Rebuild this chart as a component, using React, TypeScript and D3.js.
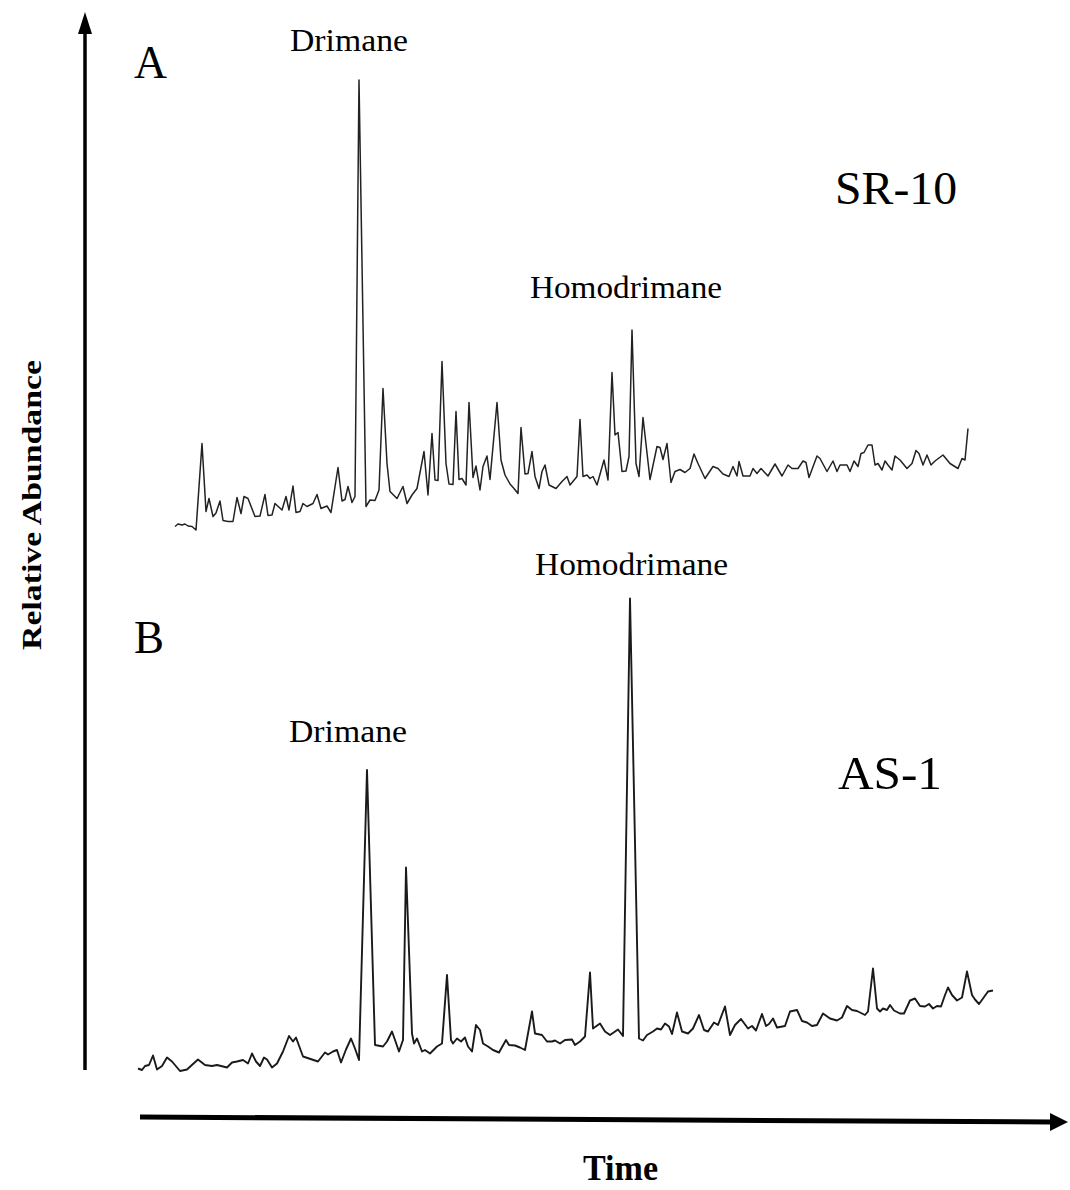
import React from "react";
import * as d3 from "d3";

// Retention time (arbitrary min) and relative abundance (%) for sample SR-10 (panel A)
const timeA = [4.5,4.8,5.2,5.5,5.8,6.2,6.6,7.2,7.6,7.9,8.3,8.6,9.0,9.3,9.8,10.3,10.7,11.1,11.4,11.8,12.5,13.0,13.5,13.8,14.2,14.5,15.2,15.6,15.9,16.3,16.6,17.0,17.3,17.7,18.3,18.7,19.1,19.7,20.1,20.8,21.2,21.5,21.8,22.2,22.5,22.9,23.6,24.0,24.5,24.9,25.3,25.7,26.0,26.7,27.3,27.7,28.2,28.7,29.4,29.8,30.2,30.5,30.8,31.2,31.6,31.9,32.3,32.6,32.9,33.2,33.6,33.9,34.3,34.6,35.0,35.3,35.7,36.0,36.7,37.1,37.5,38.0,38.4,38.8,39.1,39.5,39.8,40.2,40.5,40.9,41.2,41.5,41.9,42.6,43.2,43.7,44.0,44.7,45.0,45.3,45.7,46.0,46.3,46.7,47.4,47.8,48.2,48.5,48.8,49.2,49.6,49.9,50.2,50.6,50.9,51.3,52.0,52.7,53.0,53.3,53.7,54.1,54.5,55.0,55.5,56.0,56.4,56.8,57.5,58.3,58.8,59.3,59.9,60.3,60.7,60.9,61.3,62.0,62.3,62.7,63.1,63.8,64.5,65.2,65.8,66.2,66.8,67.3,67.6,67.9,68.7,69.0,69.7,70.3,70.7,71.0,71.7,72.0,72.4,72.8,73.1,73.4,73.8,74.2,74.5,74.8,75.2,75.5,75.8,76.2,76.5,77.0,77.7,78.2,78.6,78.9,79.3,79.7,80.1,80.5,81.3,82.0,82.8,83.2,83.5,83.8];
const abundA = [2.7,3.2,3.0,3.2,2.8,2.7,2.0,19.3,5.7,8.3,4.7,5.4,7.8,3.9,3.7,3.7,8.5,5.3,8.7,8.3,4.7,4.8,9.1,4.9,5.0,7.3,6.0,8.7,6.0,10.8,5.5,5.7,7.3,6.7,7.3,9.1,6.3,6.8,5.5,14.5,7.8,8.1,10.7,7.5,8.7,92.0,6.7,8.0,7.9,10.0,30.3,15.3,9.7,8.3,10.7,7.3,9.0,10.3,17.7,9.0,21.3,12.0,11.9,35.7,15.3,11.2,11.1,25.7,12.1,12.3,11.0,27.5,12.5,14.8,10.0,14.7,16.8,12.1,27.5,16.0,13.0,11.2,10.3,9.3,22.5,13.2,13.3,17.7,12.7,10.3,13.7,15.0,11.0,10.3,11.7,12.7,11.0,12.7,24.1,12.7,13.0,12.3,12.7,11.0,16.0,12.0,33.5,21.0,21.5,13.7,13.8,16.7,42.0,15.3,12.7,24.5,12.1,18.7,18.5,16.1,19.3,11.5,13.7,14.1,13.5,14.3,17.2,15.3,12.3,14.7,14.3,13.2,12.7,14.7,12.8,15.7,12.8,12.8,14.3,13.3,14.3,12.8,15.2,12.8,15.0,14.3,14.3,15.8,15.5,12.5,16.8,16.3,13.7,15.8,13.7,15.0,15.0,13.7,15.8,14.7,17.3,17.5,19.0,19.0,15.0,15.3,14.0,15.8,15.0,14.0,16.8,16.0,14.3,15.3,17.9,17.3,15.0,17.0,15.0,15.8,17.0,15.3,14.3,16.3,16.0,22.3];

// Sample AS-1 (panel B)
const timeB = [0.8,1.2,1.5,1.9,2.3,2.7,3.2,3.7,4.2,5.0,5.7,6.3,6.8,7.5,8.2,8.7,9.7,10.2,10.7,11.3,11.8,12.2,12.6,13.0,13.4,13.7,14.2,14.7,15.3,15.9,16.3,16.6,17.3,18.2,18.8,19.5,19.8,20.3,20.7,21.1,21.6,22.1,22.5,22.9,23.7,24.5,25.3,25.7,26.2,26.5,26.9,27.3,27.6,28.2,28.4,28.7,29.2,29.5,30.0,30.7,31.2,31.7,32.1,32.3,32.7,33.1,33.5,33.8,34.2,34.6,35.0,35.3,35.8,36.3,36.9,37.6,37.9,38.5,39.0,39.5,40.2,40.5,41.2,41.7,42.2,42.5,43.0,43.5,44.2,44.5,45.0,45.5,46.0,46.3,47.0,47.5,48.0,48.8,49.3,50.0,50.9,51.3,51.7,52.3,52.7,53.1,53.5,53.9,54.2,54.7,55.2,55.8,56.3,56.9,57.4,57.8,58.4,58.8,59.5,60.0,60.5,61.1,61.8,62.2,62.6,63.2,63.6,63.9,64.3,64.7,65.5,66.0,66.7,67.2,67.7,68.2,68.7,69.3,70.0,70.7,71.2,71.7,72.2,72.7,73.2,73.5,73.8,74.3,74.7,75.0,75.3,75.7,76.0,76.4,77.0,77.4,78.0,78.5,79.0,79.5,79.9,80.3,80.7,81.1,81.5,81.8,82.2,82.7,83.2,83.7,84.2,84.5,84.9,85.3,85.8,86.3];
const abundB = [2.3,2.0,2.8,3.0,4.9,2.1,2.8,4.5,3.7,1.8,2.1,3.2,4.1,3.0,2.8,3.0,2.5,3.5,3.7,4.0,3.3,5.3,3.7,2.8,4.5,4.1,2.5,3.3,5.7,8.8,7.7,8.5,4.7,4.1,3.7,5.5,5.1,5.7,6.0,3.5,6.1,8.3,6.3,4.0,62.0,7.0,6.7,7.7,9.7,8.0,5.7,8.0,42.5,9.3,7.3,8.3,5.7,6.0,5.3,6.7,7.3,21.0,8.0,7.3,8.3,7.7,8.5,6.7,5.7,11.0,10.0,7.3,6.7,6.0,5.5,8.0,7.0,6.9,6.5,6.0,13.7,9.3,9.0,7.7,7.7,7.9,7.3,8.0,8.1,7.0,7.7,8.7,21.5,10.3,11.3,9.7,9.0,10.1,8.8,96.3,8.3,7.9,9.0,9.7,10.3,10.1,11.3,10.7,9.2,13.5,9.7,9.3,10.3,13.0,10.0,9.7,11.5,11.0,14.7,9.0,11.0,12.2,10.3,10.8,9.9,13.2,10.8,11.2,12.3,10.5,10.8,13.7,14.0,11.8,11.5,10.8,11.0,13.3,12.3,11.9,12.5,14.8,14.0,13.8,13.3,13.0,13.7,22.3,14.3,13.7,14.3,14.0,15.0,13.9,13.3,13.3,15.9,16.3,14.8,14.7,15.2,14.3,14.8,14.7,17.0,18.5,17.0,15.9,16.5,21.7,17.0,16.1,15.2,16.3,17.7,17.9];

const panelLabels = ["A", "B"];
const sampleLabels = ["SR-10", "AS-1"];
const peakLabels = ["Drimane", "Homodrimane"];
const xAxisTitle = "Time";
const yAxisTitle = "Relative Abundance";

const W = 1070;
const H = 1190;
const FONT = "'Liberation Serif', 'Times New Roman', serif";

export default function App() {
  const x = d3.scaleLinear().domain([0, 93.5]).range([130, 1065]);
  const yA = d3.scaleLinear().domain([0, 100]).range([540, 40]);
  const yB = d3.scaleLinear().domain([0, 100]).range([1080, 580]);

  const pairsA = timeA.map((t, i) => [t, abundA[i]] as [number, number]);
  const pairsB = timeB.map((t, i) => [t, abundB[i]] as [number, number]);

  const lineA = d3.line<[number, number]>().x((d) => x(d[0])).y((d) => yA(d[1]))(pairsA) || "";
  const lineB = d3.line<[number, number]>().x((d) => x(d[0])).y((d) => yB(d[1]))(pairsB) || "";

  return (
    <svg
      width={W}
      height={H}
      viewBox={`0 0 ${W} ${H}`}
      style={{ position: "absolute", left: 0, top: 0, background: "#fff" }}
    >
      <rect x={0} y={0} width={W} height={H} fill="#fff" />
      {/* Y axis arrow */}
      <line x1={85} y1={1070} x2={85} y2={30} stroke="#000" strokeWidth={3.5} />
      <path d="M85,12 L78,34 L92,34 Z" fill="#000" />
      {/* X axis arrow */}
      <line x1={140} y1={1117} x2={1052} y2={1122} stroke="#000" strokeWidth={5} />
      <path d="M1068,1122 L1050,1113 L1050,1131 Z" fill="#000" />

      {/* traces */}
      <path d={lineA} fill="none" stroke="#222" strokeWidth={1.5} strokeLinejoin="round" />
      <path d={lineB} fill="none" stroke="#1a1a1a" strokeWidth={1.9} strokeLinejoin="round" />

      {/* labels */}
      <g fontFamily={FONT} fill="#000">
        <text x={134} y={78} fontSize={46} textLength={33} lengthAdjust="spacingAndGlyphs">{panelLabels[0]}</text>
        <text x={290} y={51} fontSize={32} textLength={118} lengthAdjust="spacingAndGlyphs">{peakLabels[0]}</text>
        <text x={835} y={204} fontSize={47} textLength={122} lengthAdjust="spacingAndGlyphs">{sampleLabels[0]}</text>
        <text x={530} y={298} fontSize={32} textLength={192} lengthAdjust="spacingAndGlyphs">{peakLabels[1]}</text>

        <text x={535} y={575} fontSize={32} textLength={193} lengthAdjust="spacingAndGlyphs">{peakLabels[1]}</text>
        <text x={134} y={653} fontSize={46} textLength={30} lengthAdjust="spacingAndGlyphs">{panelLabels[1]}</text>
        <text x={289} y={742} fontSize={32} textLength={118} lengthAdjust="spacingAndGlyphs">{peakLabels[0]}</text>
        <text x={838} y={789} fontSize={47} textLength={104} lengthAdjust="spacingAndGlyphs">{sampleLabels[1]}</text>

        <text x={583} y={1180} fontSize={35} fontWeight="bold" textLength={75} lengthAdjust="spacingAndGlyphs">{xAxisTitle}</text>
        <text
          transform="translate(41,650) rotate(-90)"
          fontSize={28}
          fontWeight="bold"
          textLength={290}
          lengthAdjust="spacingAndGlyphs"
        >
          {yAxisTitle}
        </text>
      </g>
    </svg>
  );
}
